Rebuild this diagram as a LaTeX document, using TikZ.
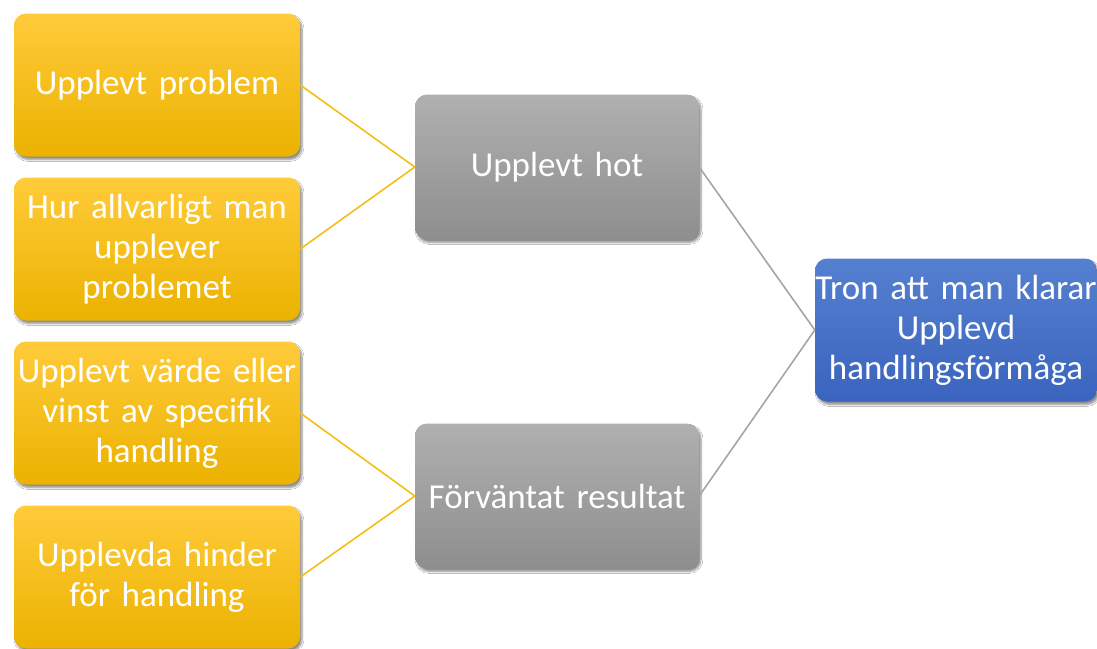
\documentclass[tikz,border=0pt]{standalone}
\usepackage{fontspec}
\setmainfont{Carlito}
\usetikzlibrary{shadows.blur}

\definecolor{goldtop}{HTML}{FFCB3A}
\definecolor{goldbot}{HTML}{EBB200}
\definecolor{goldline}{HTML}{F5BE14}
\definecolor{graytop}{HTML}{B0B0B0}
\definecolor{graybot}{HTML}{8E8E8E}
\definecolor{grayline}{HTML}{A5A5A5}
\definecolor{bluetop}{HTML}{5580D0}
\definecolor{bluebot}{HTML}{3A64BE}

\newcommand{\boxfont}{\fontsize{35}{40}\selectfont\spaceskip=4.5pt plus 1pt minus 1pt\relax}

\tikzset{
  box/.style={rounded corners=12pt, align=center, text=white, inner sep=0pt,
    font=\boxfont,
    blur shadow={shadow xshift=2pt, shadow yshift=-3pt, shadow blur steps=6, shadow opacity=45}},
  yellowbox/.style={box, top color=goldtop, bottom color=goldbot,
    minimum width=286pt, minimum height=143pt, text width=286pt},
  graybox/.style={box, top color=graytop, bottom color=graybot,
    minimum width=284pt, minimum height=145pt, text width=284pt},
  bluebox/.style={box, top color=bluetop, bottom color=bluebot,
    minimum width=282pt, minimum height=143pt, text width=282pt},
  goldlink/.style={draw=goldline, line width=1.6pt},
  graylink/.style={draw=grayline, line width=1.6pt}
}

\begin{document}
\begin{tikzpicture}[x=1pt, y=-1pt]
  \useasboundingbox[fill=white] (0,0) rectangle (1097,648);

  % left column
  \node[yellowbox] (problem) at (157,85) {Upplevt problem};
  \node[yellowbox] (allvar) at (157,249) {Hur allvarligt man\\upplever\\problemet};
  \node[yellowbox] (varde) at (157,413) {Upplevt värde eller\\vinst av specifik\\handling};
  \node[yellowbox] (hinder) at (157,577) {Upplevda hinder\\för handling};

  % middle column
  \node[graybox] (hot) at (557,167) {Upplevt hot};
  \node[graybox] (resultat) at (557,496) {Förväntat resultat};

  % right
  \node[bluebox] (tron) at (956,330) {Tron att man klarar\\Upplevd\\handlingsförmåga};

  \draw[goldlink] (problem.east) -- (hot.west);
  \draw[goldlink] (allvar.east) -- (hot.west);
  \draw[goldlink] (varde.east) -- (resultat.west);
  \draw[goldlink] (hinder.east) -- (resultat.west);

  \draw[graylink] (hot.east) -- (tron.west);
  \draw[graylink] (resultat.east) -- (tron.west);
\end{tikzpicture}
\end{document}
